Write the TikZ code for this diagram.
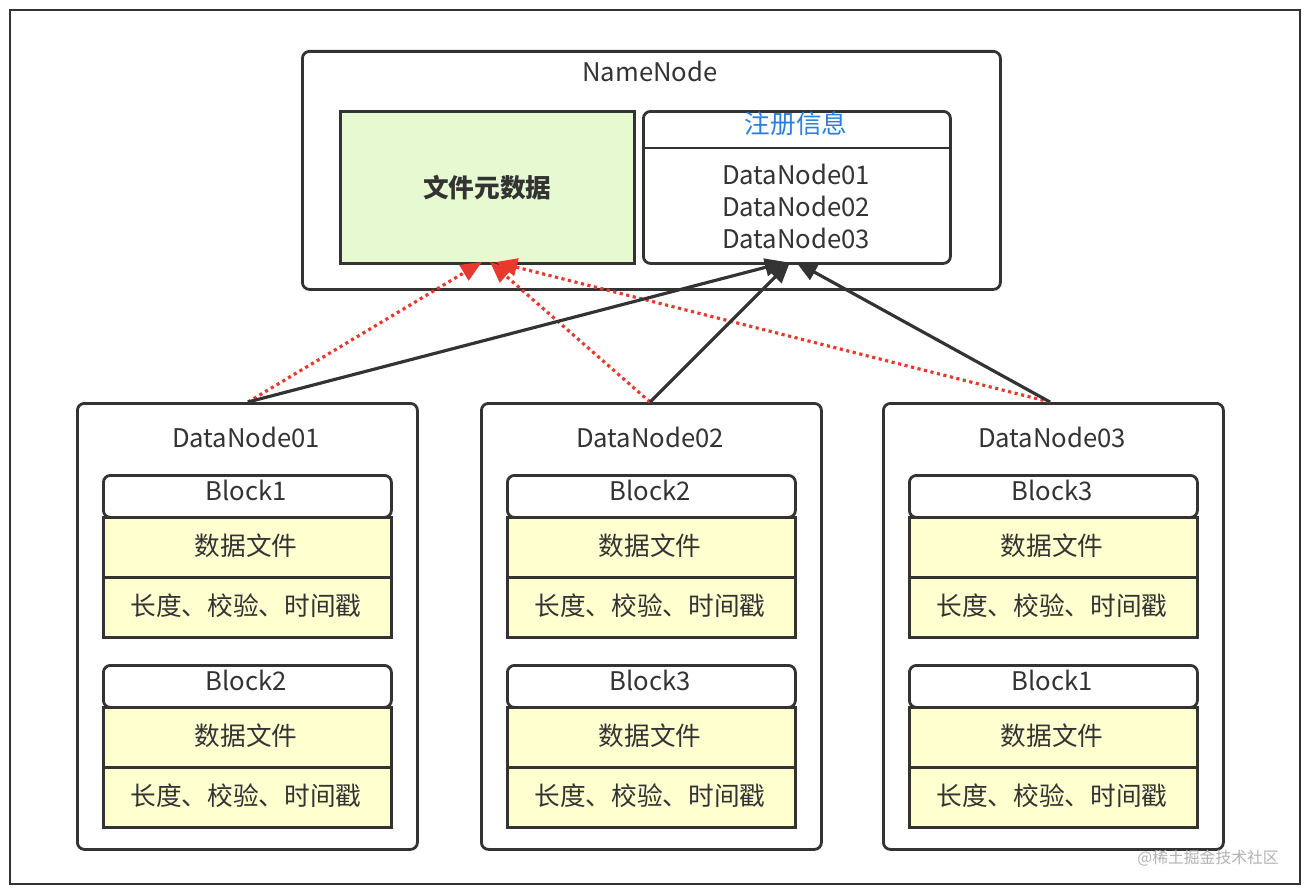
\documentclass[tikz,border=0pt]{standalone}
\usepackage{fontspec}
\setmainfont{Noto Sans CJK SC}
\usetikzlibrary{arrows.meta}
\definecolor{dk}{HTML}{333333}
\definecolor{grn}{HTML}{E6F9D0}
\definecolor{yel}{HTML}{FFFFD0}
\definecolor{rd}{HTML}{E8392F}
\definecolor{bl}{HTML}{2B7FE0}
\tikzset{
 px/.style={x=0.02cm,y=-0.02cm},
 box/.style={draw=dk,line width=1.6pt,rounded corners=4pt,inner sep=0pt,anchor=north west},
 cell/.style={draw=dk,line width=1.6pt,inner sep=0pt,anchor=north west,fill=yel},
 tx/.style={font=\fontsize{14.6}{16}\selectfont,text=dk},
 blk/.style={draw=dk,line width=1.8pt,-{Triangle[length=12pt,width=10pt]}},
 red/.style={draw=rd,line width=1.8pt,dotted,-{Triangle[length=12pt,width=10pt]}},
}
\newcommand{\myblock}[4]{% x y name label
 \node[box,minimum width=288*0.02cm,minimum height=42*0.02cm] (#3t) at (#1,#2) {};
 \node[tx] at (#1+144,#2+16) {#4};
 \node[cell,minimum width=288*0.02cm,minimum height=60*0.02cm] (#3d) at (#1,#2+42) {};
 \node[tx] at (#1+144,#2+72) {数据文件};
 \node[cell,minimum width=288*0.02cm,minimum height=60*0.02cm] (#3m) at (#1,#2+102) {};
 \node[tx] at (#1+144,#2+132) {长度、校验、时间戳};
}
\begin{document}
\begin{tikzpicture}[px]
\useasboundingbox (0,0) rectangle (1310,892);
\fill[white] (0,0) rectangle (1310,892);
\draw[dk,line width=1.6pt] (10,10) rectangle (1300,884);
% NameNode
\node[box,minimum width=698*0.02cm,minimum height=238*0.02cm] (nn) at (301,50) {};
\node[tx] (nnt) at (650,71) {NameNode};
\node[draw=dk,line width=1.6pt,fill=grn,inner sep=0pt,anchor=north west,minimum width=294*0.02cm,minimum height=152*0.02cm,tx,font=\fontsize{14.6}{16}\selectfont\bfseries] (meta) at (339,110) {文件元数据};
\node[box,minimum width=307*0.02cm,minimum height=152*0.02cm] (reg) at (642,110) {};
\draw[dk,line width=1.6pt] (642,148) -- (949,148);
\node[tx,text=bl] (regt) at (796,124) {注册信息};
\node[tx,align=center,font=\fontsize{14.6}{18.2}\selectfont] (regl) at (796,206) {DataNode01\\DataNode02\\DataNode03};
% DataNodes
\foreach \x/\n in {76/1,480/2,882/3}{
 \node[box,minimum width=340*0.02cm,minimum height=446*0.02cm] (dn\n) at (\x,402) {};
 \node[tx] at (\x+170,437) {DataNode0\n};
}
\myblock{102}{474}{a}{Block1}
\myblock{102}{664}{b}{Block2}
\myblock{506}{474}{c}{Block2}
\myblock{506}{664}{d}{Block3}
\myblock{908}{474}{e}{Block3}
\myblock{908}{664}{f}{Block1}
% connectors
\coordinate (d1) at (248,402);
\coordinate (d2) at (650,402);
\coordinate (d3) at (1050,402);
\coordinate (r1) at (786,262);
\coordinate (r2) at (790,262);
\coordinate (r3) at (796,262);
\coordinate (m1) at (482,262);
\coordinate (m2) at (490,262);
\coordinate (m3) at (496,262);
\draw[red] (d1) -- (m1);
\draw[red] (d2) -- (m2);
\draw[red] (d3) -- (m3);
\draw[blk] (d1) -- (r1);
\draw[blk] (d2) -- (r2);
\draw[blk] (d3) -- (r3);
\node[text=gray!60,font=\fontsize{9}{10}\selectfont] at (1208,858) {@稀土掘金技术社区};
\end{tikzpicture}
\end{document}
